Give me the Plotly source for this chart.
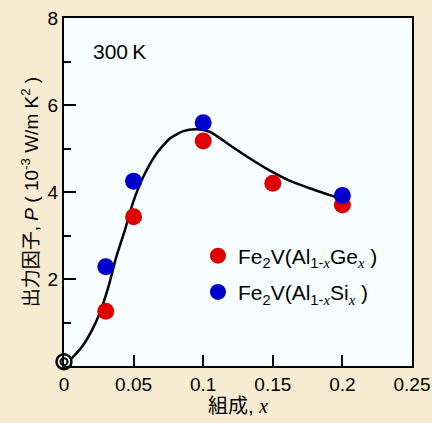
import plotly.graph_objects as go

# Data
x_ge = [0.03, 0.05, 0.10, 0.15, 0.20]
p_ge = [1.26, 3.43, 5.17, 4.20, 3.70]
x_si = [0.03, 0.05, 0.10, 0.20]
p_si = [2.28, 4.25, 5.59, 3.92]
# guide curve (hand-drawn fit) sample points
x_fit = [0.0, 0.0045, 0.0129, 0.0213, 0.0273, 0.0321, 0.0372, 0.0438, 0.0498, 0.057, 0.0666,
         0.0761, 0.0857, 0.0953, 0.105, 0.119, 0.1336, 0.148, 0.162, 0.177, 0.19, 0.2]
p_fit = [0.0, 0.14, 0.44, 0.9, 1.36, 1.84, 2.47, 3.13, 3.78, 4.35, 4.89,
         5.23, 5.40, 5.44, 5.38, 5.08, 4.77, 4.49, 4.26, 4.08, 3.94, 3.83]
x_ref = [0.0]
p_ref = [0.1]
x_ticks = [0, 0.05, 0.1, 0.15, 0.2, 0.25]
x_ticklabels = ["0", "0.05", "0.1", "0.15", "0.2", "0.25"]
y_ticks = [2, 4, 6, 8]
y_minor = [1, 3, 5, 7]

SANS = "Liberation Sans, Arial, Noto Sans CJK JP"
SERIF_X = "<span style='font-family:Liberation Serif, Times New Roman, serif'><i>x</i></span>"

fig = go.Figure()
fig.add_trace(go.Scatter(x=x_fit, y=p_fit, mode="lines",
                         line=dict(color="black", width=2.5, shape="spline", smoothing=0.6),
                         showlegend=False, hoverinfo="skip"))
fig.add_trace(go.Scatter(x=x_ge, y=p_ge, mode="markers",
                         marker=dict(color="#DD0000", size=17),
                         name="Fe<sub>2</sub>V(Al<sub>1-" + SERIF_X + "</sub>Ge<sub>" + SERIF_X + "</sub> )",
                         legendgroup="a"))
fig.add_trace(go.Scatter(x=x_si, y=p_si, mode="markers",
                         marker=dict(color="#0000CC", size=17),
                         name="Fe<sub>2</sub>V(Al<sub>1-" + SERIF_X + "</sub>Si<sub>" + SERIF_X + "</sub> )",
                         legendgroup="b"))
fig.add_trace(go.Scatter(x=x_ref, y=p_ref, mode="markers", cliponaxis=False,
                         marker=dict(color="white", size=15, line=dict(color="black", width=2.5)),
                         showlegend=False))
fig.add_trace(go.Scatter(x=x_ref, y=p_ref, mode="markers", cliponaxis=False,
                         marker=dict(color="white", size=7, line=dict(color="black", width=2)),
                         showlegend=False))

fig.add_annotation(x=0.078, y=0.905, xref="paper", yref="paper", text="300\u2009K", showarrow=False,
                   xanchor="left", yanchor="middle", font=dict(size=21, color="black", family=SANS))

fig.update_layout(
    width=432, height=423,
    margin=dict(l=64, r=20, t=18, b=57),
    paper_bgcolor="#F7EBD2",
    plot_bgcolor="#F7FEFF",
    font=dict(family=SANS, size=19, color="black"),
    legend=dict(x=0.385, y=0.375, xanchor="left", yanchor="top", bgcolor="rgba(0,0,0,0)",
                font=dict(size=21), tracegroupgap=6, traceorder="grouped", itemwidth=30),
    xaxis=dict(range=[0, 0.25], tickvals=x_ticks, ticktext=x_ticklabels, ticks="inside", ticklen=11,
               tickwidth=2, tickcolor="black", showline=True, linecolor="black", linewidth=2, mirror=True,
               showgrid=False, zeroline=False, automargin=False, tickfont=dict(size=19),
               title=dict(text="組成, <span style='font-family:Liberation Serif, Times New Roman, serif'><i>x</i></span>",
                          font=dict(size=20), standoff=5)),
    yaxis=dict(range=[0, 8], tickvals=y_ticks, ticks="inside", ticklen=12, tickwidth=2, tickcolor="black",
               showline=True, linecolor="black", linewidth=2, mirror=True, showgrid=False, zeroline=False,
               automargin=False, tickfont=dict(size=19),
               minor=dict(tickvals=y_minor, ticks="inside", ticklen=7, tickwidth=2, tickcolor="black", showgrid=False),
               title=dict(text="出力因子, <i>P</i> ( 10<sup>-3</sup> W/m K<sup>2</sup> )", font=dict(size=19), standoff=4)),
)

fig.write_html("out.html")
